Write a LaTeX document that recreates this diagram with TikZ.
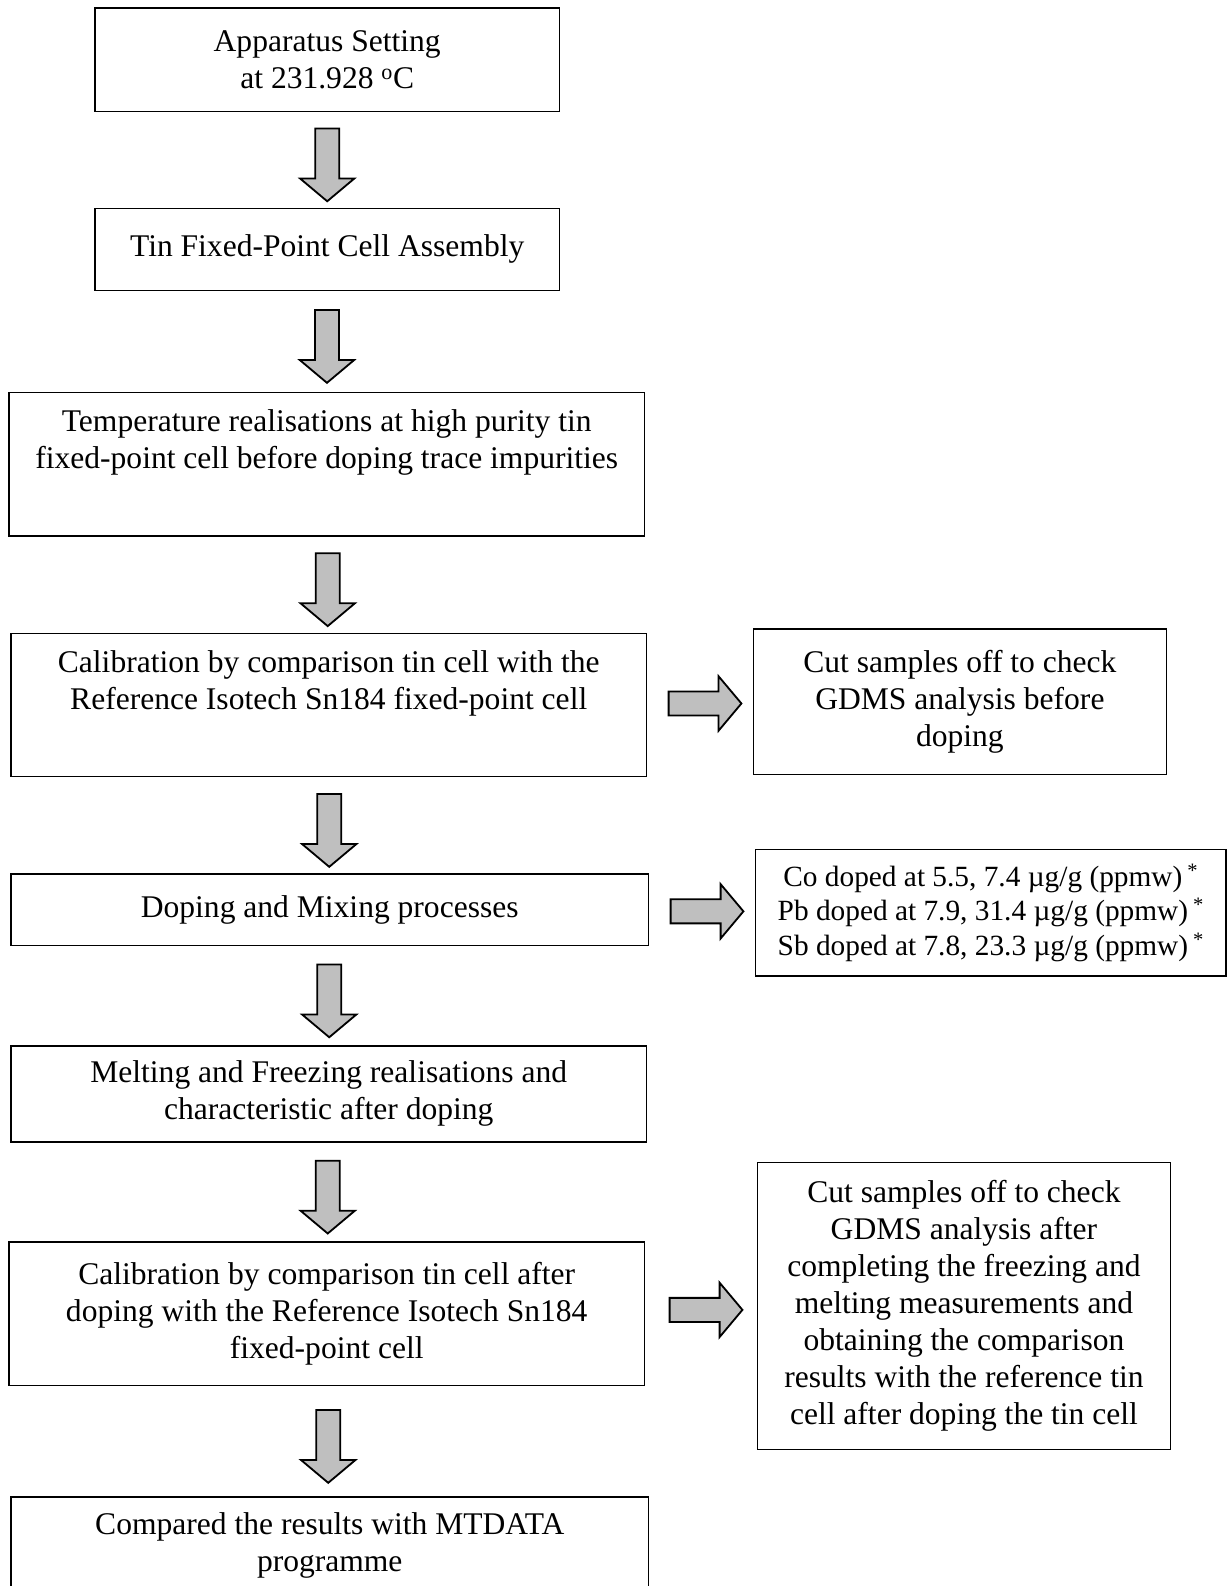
\documentclass[tikz,border=0pt]{standalone}
\usepackage{fontspec}
\setmainfont{Liberation Serif}
\usetikzlibrary{shapes.arrows,calc}

\tikzset{
  flowbox/.style={draw, line width=1.3pt, align=center, inner sep=0pt},
  blockarr/.style={single arrow, draw, line width=1.8pt, fill=gray!50,
    inner sep=11pt, single arrow head extend=15pt, minimum height=72pt,
    single arrow tip angle=100},
}

\begin{document}
\begin{tikzpicture}[x=1pt, y=-1pt, font=\fontsize{31.2}{36.6}\selectfont]
    \useasboundingbox (0,0) rectangle (1215,1568);
    \clip (0,0) rectangle (1215,1568);

    % Main column
    \node[flowbox, minimum width=459pt, minimum height=102pt] (app) at (323.5,59)
        {Apparatus Setting\\at 231.928 \textsuperscript{o}C};
    \node[flowbox, minimum width=459pt, minimum height=81pt] (tin) at (323.5,246.5)
        {Tin Fixed-Point Cell Assembly};
    \node[flowbox, minimum width=628pt, text height=75pt, text depth=67pt] (temp) at (323,459)
        {Temperature realisations at high purity tin\\fixed-point cell before doping trace impurities};
    \node[flowbox, minimum width=628pt, text height=75pt, text depth=67pt] (calib) at (325,697)
        {Calibration by comparison tin cell with the\\Reference Isotech Sn184 fixed-point cell};
    \node[flowbox, minimum width=630pt, minimum height=71pt] (dope) at (326,899.5)
        {Doping and Mixing processes};
    \node[flowbox, minimum width=628pt, minimum height=95pt] (melt) at (325,1081.5)
        {Melting and Freezing realisations and\\characteristic after doping};
    \node[flowbox, minimum width=628pt, minimum height=142pt] (calibb) at (323,1299)
        {Calibration by comparison tin cell after\\doping with the Reference Isotech Sn184\\fixed-point cell};
    \node[flowbox, minimum width=630pt, minimum height=96pt] (comp) at (326,1528)
        {Compared the results with MTDATA\\programme};

    % Side column
    \node[flowbox, minimum width=408pt, minimum height=144pt] (cuta) at (949,694)
        {Cut samples off to check\\GDMS analysis before\\doping};
    \node[flowbox, minimum width=465pt, minimum height=125pt,
          font=\fontsize{29}{34.4}\selectfont] (doped) at (979.5,902.5)
        {Co doped at 5.5, 7.4 µg/g (ppmw)\,\textsuperscript{*}\\
         Pb doped at 7.9, 31.4 µg/g (ppmw)\,\textsuperscript{*}\\
         Sb doped at 7.8, 23.3 µg/g (ppmw)\,\textsuperscript{*}};
    \node[flowbox, minimum width=408pt, minimum height=284pt] (cutb) at (953,1291)
        {Cut samples off to check\\GDMS analysis after\\completing the freezing and\\melting measurements and\\obtaining the comparison\\results with the reference tin\\cell after doping the tin cell};

    % Down arrows
    \node[blockarr, shape border rotate=270] (a1) at ($(app.south)!0.5!(tin.north)$) {};
    \node[blockarr, shape border rotate=270] (a2) at ($(tin.south)!0.5!(temp.north)$) {};
    \node[blockarr, shape border rotate=270] (a3) at ($(temp.south)!0.5!(calib.north)$) {};
    \node[blockarr, shape border rotate=270] (a4) at ($(calib.south)!0.5!(dope.north)$) {};
    \node[blockarr, shape border rotate=270] (a5) at ($(dope.south)!0.5!(melt.north)$) {};
    \node[blockarr, shape border rotate=270] (a6) at ($(melt.south)!0.5!(calibb.north)$) {};
    \node[blockarr, shape border rotate=270] (a7) at ($(calibb.south)!0.5!(comp.north)$) {};

    % Side arrows
    \node[blockarr] (s1) at ($(calib.east)!0.5!(cuta.west)$) {};
    \node[blockarr] (s2) at ($(dope.east)!0.5!(doped.west)$) {};
    \node[blockarr] (s3) at ($(calibb.east)!0.5!(cutb.west)$) {};
\end{tikzpicture}
\end{document}
